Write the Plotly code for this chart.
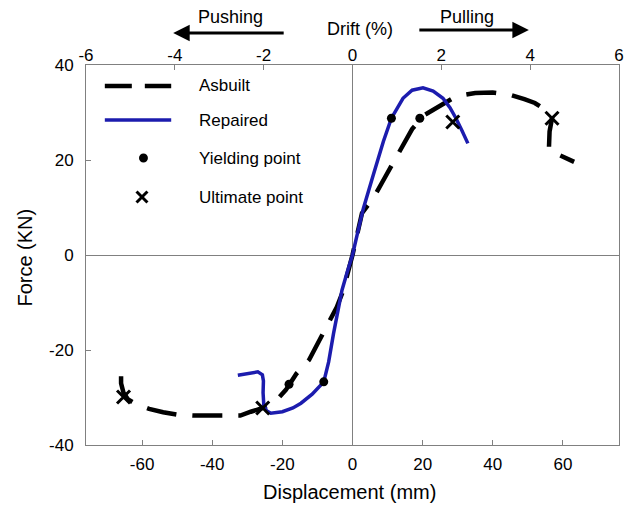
import plotly.graph_objects as go

# ---------------- data ----------------
asbuilt_x = [-66, -66, -65.3, -64, -62, -58, -54, -50, -45, -40, -35, -32, -29, -26, -23.3, -21, -19,
             -16, -12.4, -9.6, -6.5, -4.5, -2.8, 0, 2.7, 4.5, 6.2, 9, 11.6, 14, 17, 20.6, 23, 25.8,
             28.6, 31, 35, 40, 45, 49, 52, 54.5, 56.9, 56.2, 56.0, 56.0, 58.5, 61, 63.2]
asbuilt_y = [-25.5, -27, -29, -30.4, -31.3, -32.4, -33.1, -33.6, -33.8, -33.8, -33.9, -33.8, -33,
             -32.3, -31.2, -30, -28.4, -25, -22.1, -18.2, -14, -11, -7.8, 0, 8.8, 10.8, 12.3, 16,
             19.3, 22.8, 26.5, 29.5, 30.5, 31.7, 33, 33.6, 34.1, 34.2, 33.7, 32.8, 32, 30.8, 28.8,
             26, 24, 22.1, 21.2, 20.4, 19.6]

repaired_x = [-32.7, -29, -27, -25.7, -25.4, -25.5, -25.3, -24.5, -23.3, -20, -17, -14.7, -11.5,
              -8.2, -6.8, -5.4, -4.2, -3, -1.5, 0, 1.5, 3.1, 5.9, 8.8, 11.1, 14.4, 17, 20.1, 23,
              25.8, 27.8, 29.5, 31.2, 32.9]
repaired_y = [-25.3, -24.8, -24.6, -25.2, -26.5, -29, -31.5, -32.8, -33.3, -33, -32.2, -31.2, -29.3,
              -26.7, -22.5, -16.5, -12, -7.4, -3.6, 0, 4.8, 9.8, 16.8, 23.9, 28.8, 33, 34.7, 35.2,
              34.5, 33, 31, 28.8, 26.2, 23.5]

yield_x = [19.2, -18.1, 11.1, -8.2]
yield_y = [28.8, -27.2, 28.8, -26.7]

ultimate_x = [56.9, -65.3, 28.6, -25.6]
ultimate_y = [28.8, -29.9, 28.0, -32.2]

disp_ticks = [-60, -40, -20, 0, 20, 40, 60]
force_ticks = [-40, -20, 0, 20, 40]
drift_ticks = [-6, -4, -2, 0, 2, 4, 6]

legend_labels = ["Asbuilt", "Repaired", "Yielding point", "Ultimate point"]

# ---------------- layout helpers ----------------
W, H = 626, 505
L, R, T, B = 86, 624, 65, 445
FONT = "Liberation Sans, Arial, sans-serif"
BLUE = "#1c1cae"
AXC = "#808080"


def px(xp):
    return (xp - L) / (R - L)


def py(yp):
    return (B - yp) / (B - T)


def lab(v):
    return str(v).replace("\u2212", "-")


fig = go.Figure()

fig.add_trace(go.Scatter(x=asbuilt_x, y=asbuilt_y, mode="lines", name="Asbuilt",
                         line=dict(color="black", width=4.5, dash="30px,16px")))
fig.add_trace(go.Scatter(x=repaired_x, y=repaired_y, mode="lines", name="Repaired",
                         line=dict(color=BLUE, width=3.5)))
fig.add_trace(go.Scatter(x=yield_x, y=yield_y, mode="markers", name="Yielding point",
                         marker=dict(symbol="circle", size=9, color="black")))
fig.add_trace(go.Scatter(x=ultimate_x, y=ultimate_y, mode="markers", name="Ultimate point",
                         marker=dict(symbol="x-thin", size=13, color="black",
                                     line=dict(color="black", width=3))))
# drift axis (top)
fig.add_trace(go.Scatter(x=[drift_ticks[0], drift_ticks[-1]], y=[0, 0], xaxis="x2",
                         mode="markers", marker=dict(opacity=0), hoverinfo="skip",
                         showlegend=False))

axis_common = dict(showline=True, linecolor=AXC, linewidth=1, ticks="inside", ticklen=5,
                   tickcolor=AXC, showgrid=False,
                   tickfont=dict(family=FONT, size=17, color="black"))

fig.update_layout(
    width=W, height=H,
    margin=dict(l=L, r=W - R, t=T, b=H - B),
    paper_bgcolor="white", plot_bgcolor="white",
    showlegend=False,
    xaxis=dict(range=[-76, 76], tickvals=disp_ticks, ticktext=[lab(v) for v in disp_ticks],
               zeroline=True, zerolinecolor=AXC, zerolinewidth=1, ticklabelstandoff=4,
               **axis_common),
    xaxis2=dict(range=[-6, 6], overlaying="x", side="top", anchor="y", tickvals=drift_ticks,
                ticktext=[lab(v) for v in drift_ticks], zeroline=False, ticklabelstandoff=-4,
                ticklabeloverflow="allow", **axis_common),
    yaxis=dict(range=[-40, 40], tickvals=force_ticks, ticktext=[lab(v) for v in force_ticks],
               zeroline=True, zerolinecolor=AXC, zerolinewidth=1, mirror=True,
               ticklabelstandoff=8, **axis_common),
)

ann = []
# axis titles
ann.append(dict(text="Displacement (mm)", x=px(352), y=py(492), xref="paper", yref="paper",
                showarrow=False, font=dict(family=FONT, size=20, color="black"),
                xanchor="center", yanchor="middle"))
ann.append(dict(text="Force (KN)", x=px(24), y=py(258), xref="paper", yref="paper",
                showarrow=False, textangle=-90, font=dict(family=FONT, size=20, color="black"),
                xanchor="center", yanchor="middle"))
ann.append(dict(text="Drift (%)", x=px(363), y=py(29), xref="paper", yref="paper",
                showarrow=False, font=dict(family=FONT, size=18, color="black"),
                xanchor="center", yanchor="middle"))
ann.append(dict(text="Pushing", x=px(232), y=py(17), xref="paper", yref="paper",
                showarrow=False, font=dict(family=FONT, size=18, color="black"),
                xanchor="center", yanchor="middle"))
ann.append(dict(text="Pulling", x=px(471), y=py(17), xref="paper", yref="paper",
                showarrow=False, font=dict(family=FONT, size=18, color="black"),
                xanchor="center", yanchor="middle"))
# arrows
ann.append(dict(text="", x=px(174), y=py(33), xref="paper", yref="paper", showarrow=True,
                ax=286 - 174, ay=0, arrowhead=2, arrowsize=1.1, arrowwidth=3, arrowcolor="black"))
ann.append(dict(text="", x=px(533), y=py(30), xref="paper", yref="paper", showarrow=True,
                ax=422 - 533, ay=0, arrowhead=2, arrowsize=1.1, arrowwidth=3, arrowcolor="black"))

# manual legend
leg_y = [86, 120, 158, 197]
for lbl, yy in zip(legend_labels, leg_y):
    ann.append(dict(text=lbl, x=px(198), y=py(yy), xref="paper", yref="paper", showarrow=False,
                    font=dict(family=FONT, size=17, color="black"),
                    xanchor="left", yanchor="middle"))

shapes = [
    dict(type="line", xref="paper", yref="paper", x0=px(105), x1=px(172), y0=py(leg_y[0]),
         y1=py(leg_y[0]), line=dict(color="black", width=4.5, dash="27px,13px")),
    dict(type="line", xref="paper", yref="paper", x0=px(105), x1=px(172), y0=py(leg_y[1]),
         y1=py(leg_y[1]), line=dict(color=BLUE, width=3.5)),
    dict(type="circle", xref="paper", yref="paper", x0=px(139.5), x1=px(148.5),
         y0=py(leg_y[2] + 4.5), y1=py(leg_y[2] - 4.5), fillcolor="black",
         line=dict(color="black", width=0)),
    dict(type="line", xref="paper", yref="paper", x0=px(137), x1=px(148), y0=py(leg_y[3] - 5.5),
         y1=py(leg_y[3] + 5.5), line=dict(color="black", width=3)),
    dict(type="line", xref="paper", yref="paper", x0=px(137), x1=px(148), y0=py(leg_y[3] + 5.5),
         y1=py(leg_y[3] - 5.5), line=dict(color="black", width=3)),
]

fig.update_layout(annotations=ann, shapes=shapes)

fig.write_html("out.html", config={"displayModeBar": False},
               post_script="document.body.style.margin='0';document.body.style.overflow='hidden';")
